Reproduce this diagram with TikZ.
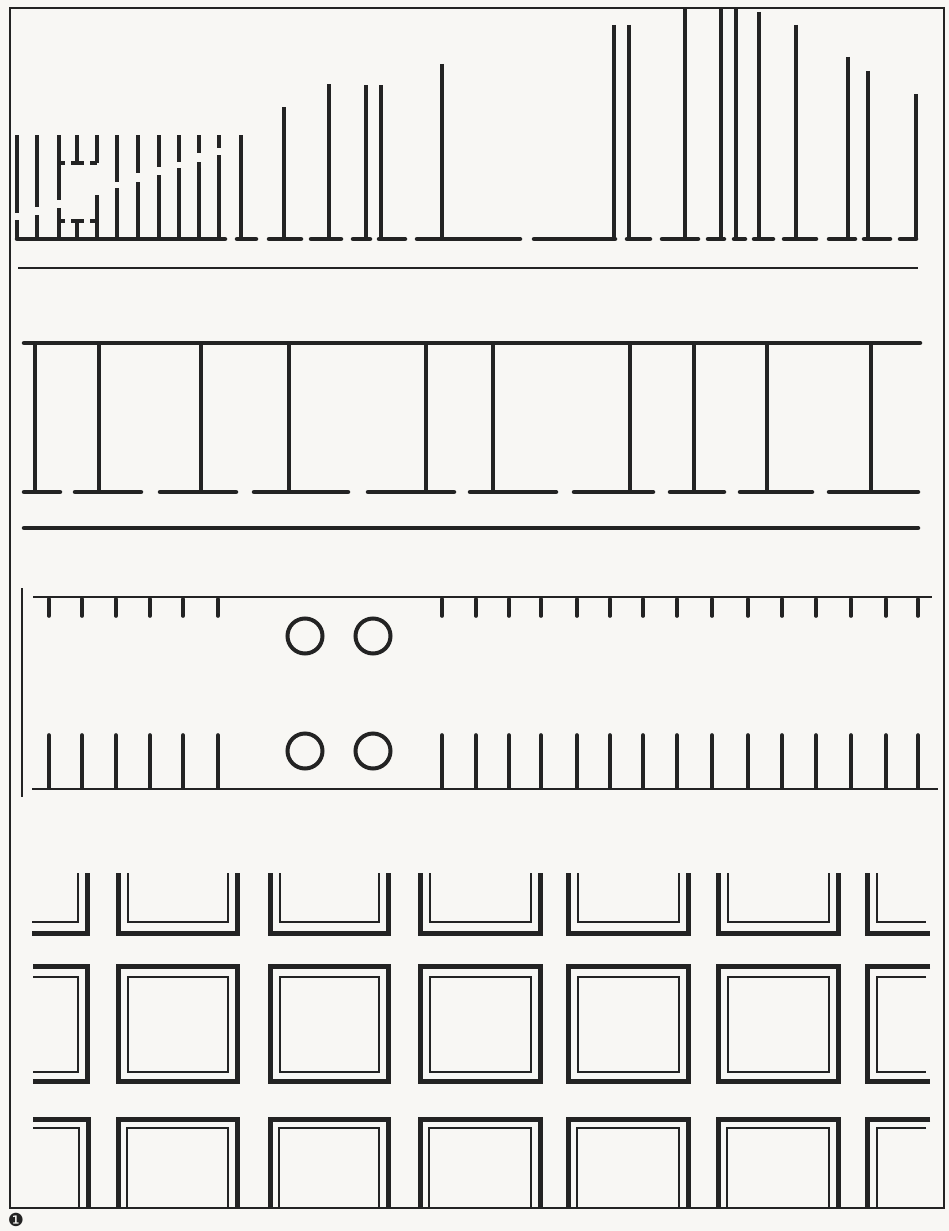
\documentclass[tikz,border=0pt]{standalone}
\usepackage{fontspec}
\newfontfamily\djv{DejaVu Sans}
\definecolor{ink}{HTML}{232323}
\definecolor{paper}{HTML}{F8F7F4}
\begin{document}
\begin{tikzpicture}[x=1pt,y=-1pt,
  frame/.style={draw=ink,line width=1.1pt},
  post/.style={draw=ink,line width=4.2pt,line cap=butt},
  stub/.style={draw=ink,line width=4.2pt,line cap=butt},
  base/.style={draw=ink,line width=4.5pt,line cap=round,shorten >=2pt,shorten <=2pt},
  fine/.style={draw=ink,line width=1.3pt},
  tick/.style={draw=ink,line width=3.6pt,line cap=round},
  ring/.style={draw=ink,line width=4pt},
  heavy/.style={draw=ink,line width=5pt,line cap=butt},
  thinb/.style={draw=ink,line width=1.5pt,line cap=butt}]
\fill[paper] (0,0) rectangle (949,1231);
\useasboundingbox (0,0) rectangle (949,1231);
% frame
\draw[frame] (10,8) rectangle (944,1208);
% ---------- section 1 ----------
\foreach \x/\a/\b in {17/213/220,37/207/215,117/182/188,138/173/182,159/167/175,179/162/168,199/153/162,219/148/155}
  {\draw[post] (\x,135)--(\x,\a) (\x,\b)--(\x,239);}
\draw[post] (59,135)--(59,200) (59,208)--(59,239);
\draw[post] (77,135)--(77,163) (77,221)--(77,239);
\draw[post] (97,135)--(97,163) (97,195)--(97,239);
\draw[stub] (59,163)--(65,163) (59,221)--(65,221)
            (71,163)--(84,163) (71,221)--(84,221)
            (90,163)--(97,163) (90,221)--(97,221);
\foreach \x/\t in {241/135,284/107,329/84,366/85,381/85,442/64,614/25,629/25,759/12,796/25,848/57,868/71,916/94}
  {\draw[post] (\x,\t)--(\x,239);}
\foreach \x in {685,721,736}
  {\draw[stub] (\x,9)--(\x,239);}
\foreach \a/\b in {15/227,235/258,267/303,309/343,351/372,377/407,415/522,532/617,625/652,660/700,706/726,732/747,752/775,782/818,827/857,862/892,898/918}
  {\draw[base] (\a,239)--(\b,239);}
\draw[fine] (18,268)--(918,268);
% ---------- section 2 ----------
\draw[base] (22,343)--(922,343);
\foreach \x in {35,99,201,289,426,493,630,694,767,871}
  {\draw[stub] (\x,343)--(\x,492);}
\foreach \a/\b in {22/62,73/143,158/238,252/350,366/456,468/558,572/655,668/726,738/814,827/920}
  {\draw[base] (\a,492)--(\b,492);}
\draw[base] (22,528)--(920,528);
% ---------- section 3 ----------
\draw[fine] (22,588)--(22,797);
\draw[fine] (33,597)--(932,597);
\draw[fine] (32,789)--(938,789);
\foreach \x in {49,82,116,150,183,218,442,476,509,541,577,610,643,677,712,748,782,816,851,886,918}
  {\draw[tick] (\x,599)--(\x,616); \draw[tick] (\x,735)--(\x,788);}
\foreach \x in {305,373}
  {\draw[ring] (\x,636) circle[radius=17.5]; \draw[ring] (\x,751) circle[radius=17.5];}
% ---------- section 4 ----------
\foreach \L/\R in {118/237,270/388,420/540,568/688,718/838}{
  \draw[heavy] (\L,873)--(\L,933)--(\R,933)--(\R,873);
  \draw[thinb] (\L+10,873)--(\L+10,922)--(\R-9,922)--(\R-9,873);
  \draw[heavy] (\L,966) rectangle (\R,1081);
  \draw[thinb] (\L+10,977) rectangle (\R-9,1072);
  \draw[heavy] (\L,1207)--(\L,1119)--(\R,1119)--(\R,1207);
  \draw[thinb] (\L+9,1207)--(\L+9,1128)--(\R-9,1128)--(\R-9,1207);
}
% partial left column
\draw[heavy] (32,933)--(87,933)--(87,873);
\draw[thinb] (32,922)--(78,922)--(78,873);
\draw[heavy] (33,966)--(87,966)--(87,1081)--(33,1081);
\draw[thinb] (33,977)--(78,977)--(78,1072)--(33,1072);
\draw[heavy] (33,1119)--(88,1119)--(88,1207);
\draw[thinb] (33,1128)--(79,1128)--(79,1207);
% partial right column
\draw[heavy] (867,873)--(867,933)--(930,933);
\draw[thinb] (877,873)--(877,922)--(926,922);
\draw[heavy] (930,966)--(867,966)--(867,1081)--(930,1081);
\draw[thinb] (926,977)--(877,977)--(877,1072)--(926,1072);
\draw[heavy] (930,1119)--(867,1119)--(867,1207);
\draw[thinb] (926,1128)--(877,1128)--(877,1207);
% figure number
\node[text=ink,font=\djv\fontsize{18}{18}\selectfont,inner sep=0pt] (num) at (16,1219.5) {❶};
\end{tikzpicture}
\end{document}
